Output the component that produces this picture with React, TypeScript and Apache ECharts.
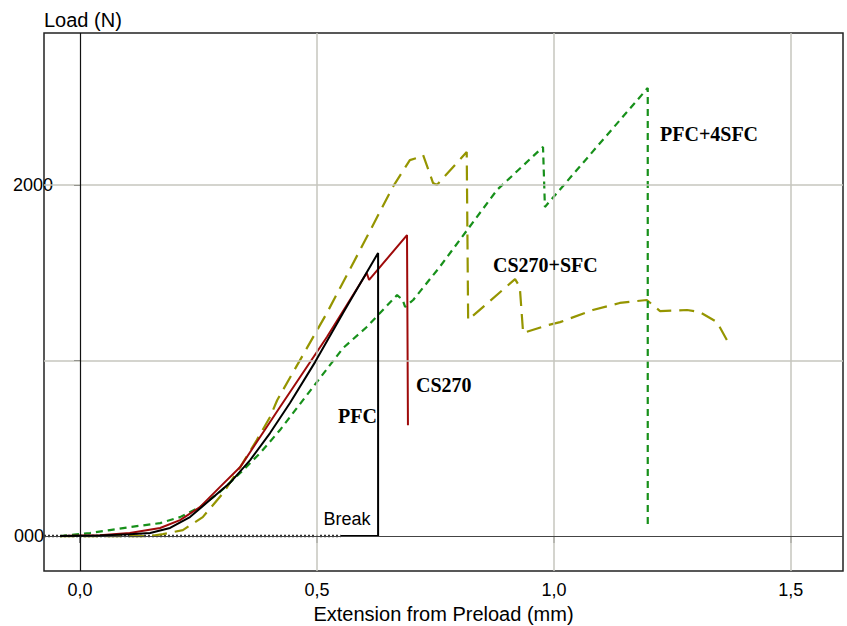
import React, { useEffect, useRef } from 'react';
import * as echarts from 'echarts';

const X_MIN = -0.076;
const X_MAX = 1.61;
const Y_MIN = -199;
const Y_MAX = 2866;

const xTickValues = [0, 0.5, 1.0, 1.5];
const xGridValues = [0.5, 1.0, 1.5];
const yTickValues = [0, 1000, 2000];
const yTickLabels = ['000', '', '2000'];
const yGridValues = [1000, 2000];

// PFC (black)
const pfcX = [-0.042, 0.042, 0.105, 0.148, 0.19, 0.232, 0.274, 0.316, 0.359, 0.401, 0.443, 0.496, 0.555, 0.629, 0.629];
const pfcY = [0, 3, 11, 17, 46, 108, 205, 302, 433, 587, 758, 991, 1271, 1613, 0];

// CS270 (dark red)
const cs270X = [-0.042, 0.042, 0.105, 0.169, 0.211, 0.253, 0.295, 0.338, 0.38, 0.422, 0.521, 0.605, 0.61, 0.69, 0.692];
const cs270Y = [0, 4, 17, 46, 91, 165, 279, 393, 564, 735, 1134, 1499, 1459, 1715, 632];

// CS270+SFC (olive dashed)
const csSfcX = [-0.042, 0.148, 0.175, 0.217, 0.259, 0.302, 0.338, 0.373, 0.401, 0.416, 0.521, 0.591, 0.66, 0.696, 0.711, 0.724, 0.745, 0.753, 0.816, 0.819, 0.918, 0.928, 0.935, 0.987, 1.013, 1.082, 1.139, 1.196, 1.224, 1.281, 1.308, 1.344, 1.365];
const csSfcY = [0, 0, 11, 34, 108, 245, 393, 547, 678, 774, 1271, 1630, 1989, 2142, 2154, 2171, 2011, 2000, 2188, 1231, 1464, 1419, 1157, 1202, 1219, 1288, 1328, 1345, 1282, 1288, 1276, 1219, 1117];

// PFC+4SFC (green dashed)
const pfc4X = [-0.042, 0.021, 0.063, 0.105, 0.169, 0.211, 0.253, 0.295, 0.338, 0.38, 0.422, 0.464, 0.555, 0.605, 0.669, 0.681, 0.686, 0.703, 0.759, 0.88, 0.977, 0.981, 1.198, 1.198];
const pfc4Y = [0, 17, 34, 51, 74, 108, 165, 251, 359, 473, 604, 752, 1071, 1191, 1373, 1345, 1305, 1345, 1533, 1972, 2217, 1875, 2553, 51];

// Break marker along zero
const breakDotX = [X_MIN, 0.55];
const breakSolidX = [0.55, 0.63];

const zip = (xs: number[], ys: number[]) => xs.map((x, i) => [x, ys[i]]);

export default function App() {
  const ref = useRef<HTMLDivElement>(null);
  useEffect(() => {
    if (!ref.current) return;
    const chart = echarts.init(ref.current, undefined, { renderer: 'svg' });
    const font = 'Liberation Sans, Arial, sans-serif';
    const serif = 'Liberation Serif, Times New Roman, serif';
    const gridLine = { color: '#c6c6be', width: 1.5, type: 'solid' as const };
    chart.setOption({
      animation: false,
      grid: { left: 44, top: 33, right: 4, bottom: 55, show: true, borderColor: '#222', borderWidth: 1.5, backgroundColor: '#fff', containLabel: false, outerBoundsMode: 'none' },
      xAxis: {
        type: 'value', min: X_MIN, max: X_MAX,
        name: 'Extension from Preload (mm)', nameLocation: 'middle', nameGap: 28,
        nameTextStyle: { fontFamily: font, fontSize: 20, color: '#000' },
        axisLine: { show: false },
        splitLine: { show: false },
        axisTick: { show: true, length: 7, customValues: xTickValues, lineStyle: { color: '#666', width: 1.5 } },
        axisLabel: { customValues: xTickValues, margin: 10, fontFamily: font, fontSize: 18, color: '#000',
          formatter: (v: number) => v.toFixed(1).replace('.', ',') },
      },
      yAxis: {
        type: 'value', min: Y_MIN, max: Y_MAX,
        axisLine: { show: false },
        splitLine: { show: false },
        axisTick: { show: true, length: 6, customValues: yTickValues, lineStyle: { color: '#000', width: 1 } },
        axisLabel: {
          customValues: yTickValues, margin: -9, fontFamily: font, fontSize: 18, color: '#000',
          formatter: (v: number) => {
            const i = yTickValues.indexOf(v);
            const t = i >= 0 ? yTickLabels[i] : '';
            if (!t) return '';
            return v === 0 ? `{b|${t}}` : `{a|${t}}`;
          },
          rich: {
            a: { fontFamily: font, fontSize: 18, color: '#000' },
            b: { fontFamily: font, fontSize: 18, color: '#000', padding: [0, 9, 0, 0] },
          },
        },
      },
      series: [
        {
          type: 'line', data: [], silent: true, z: 1,
          markLine: {
            silent: true, symbol: 'none', animation: false, label: { show: false },
            data: [
              ...xGridValues.map((v) => ({ xAxis: v, lineStyle: gridLine })),
              ...yGridValues.map((v) => ({ yAxis: v, lineStyle: gridLine })),
              { xAxis: 0, lineStyle: { color: '#111', width: 1.2, type: 'solid' } },
              { yAxis: 0, lineStyle: { color: '#444', width: 1.2, type: 'solid' } },
            ],
          },
        },
        {
          name: 'break-dot', type: 'line', showSymbol: false, silent: true, z: 2,
          data: breakDotX.map((x) => [x, 0]),
          lineStyle: { color: '#333', width: 2.5, type: [2, 2] },
        },
        {
          name: 'break-solid', type: 'line', showSymbol: false, silent: true, z: 2,
          data: breakSolidX.map((x) => [x, 0]),
          lineStyle: { color: '#000', width: 2 },
        },
        {
          name: 'CS270+SFC', type: 'line', showSymbol: false, z: 3,
          data: zip(csSfcX, csSfcY),
          lineStyle: { color: '#959500', width: 2.2, type: [15, 8] },
        },
        {
          name: 'PFC+4SFC', type: 'line', showSymbol: false, z: 3,
          data: zip(pfc4X, pfc4Y),
          lineStyle: { color: '#17901a', width: 2.2, type: [7, 5] },
        },
        {
          name: 'CS270', type: 'line', showSymbol: false, z: 4,
          data: zip(cs270X, cs270Y),
          lineStyle: { color: '#9e0a0a', width: 2 },
        },
        {
          name: 'PFC', type: 'line', showSymbol: false, z: 5,
          data: zip(pfcX, pfcY),
          lineStyle: { color: '#000', width: 2 },
        },
      ],
      graphic: [
        { type: 'text', x: 44, y: 20, style: { text: 'Load (N)', font: `20px ${font}`, fill: '#000', verticalAlign: 'middle', align: 'left' } },
        { type: 'text', x: 347, y: 519, z: 10, style: { text: 'Break', font: `18px ${font}`, fill: '#000', verticalAlign: 'middle', align: 'center' } },
        { type: 'text', x: 377, y: 416, z: 10, style: { text: 'PFC', font: `bold 20px ${serif}`, fill: '#000', verticalAlign: 'middle', align: 'right' } },
        { type: 'text', x: 416, y: 385, z: 10, style: { text: 'CS270', font: `bold 20px ${serif}`, fill: '#000', verticalAlign: 'middle', align: 'left' } },
        { type: 'text', x: 493, y: 265, z: 10, style: { text: 'CS270+SFC', font: `bold 20px ${serif}`, fill: '#000', verticalAlign: 'middle', align: 'left' } },
        { type: 'text', x: 660, y: 134, z: 10, style: { text: 'PFC+4SFC', font: `bold 20px ${serif}`, fill: '#000', verticalAlign: 'middle', align: 'left' } },
      ],
    });
    return () => chart.dispose();
  }, []);
  return <div ref={ref} style={{ position: 'fixed', left: 0, top: 0, width: 847, height: 626, background: '#fff' }} />;
}
